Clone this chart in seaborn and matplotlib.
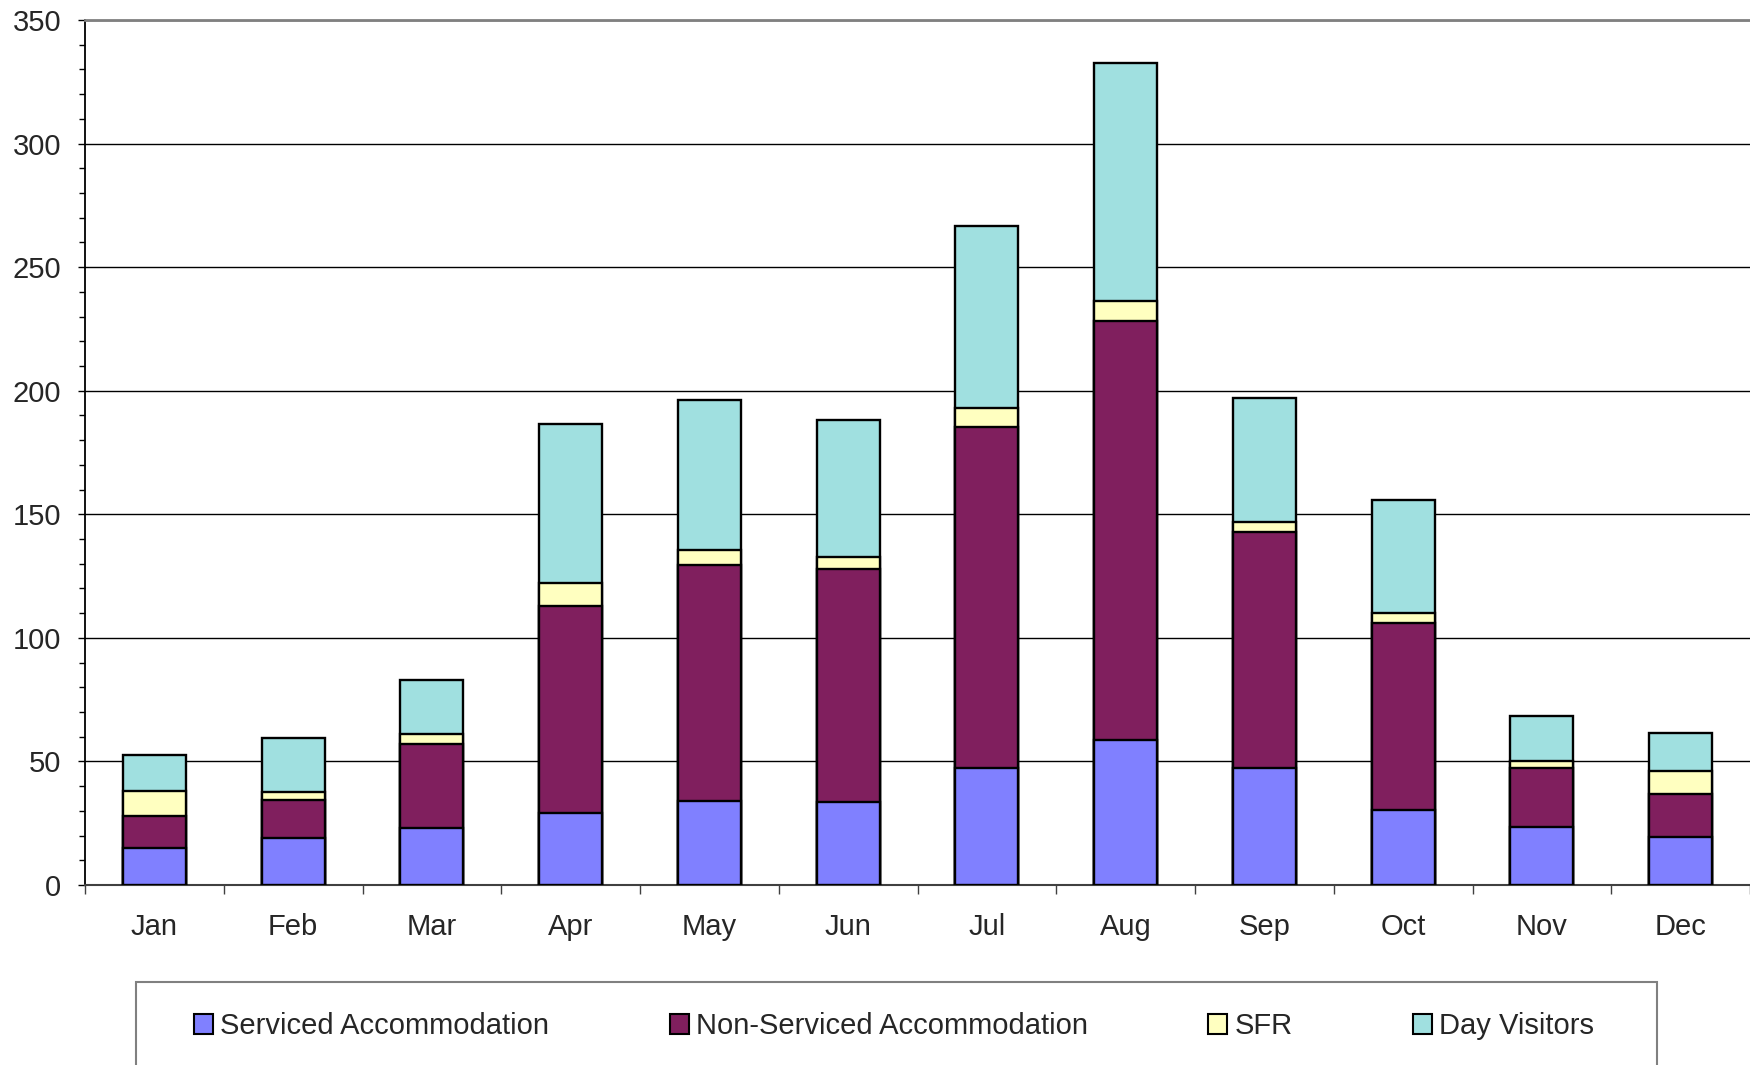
import numpy as np
import pandas as pd
import matplotlib
matplotlib.use("Agg")
import matplotlib.pyplot as plt
import seaborn as sns
from matplotlib.patches import Patch, Rectangle
from matplotlib.ticker import MultipleLocator, FixedLocator

# ========== DATA ==========
months = ["Jan", "Feb", "Mar", "Apr", "May", "Jun",
          "Jul", "Aug", "Sep", "Oct", "Nov", "Dec"]
serviced = [15, 19, 23, 29, 34, 33.5, 47.5, 58.5, 47.5, 30.5, 23.5, 19.5]
non_serviced = [13, 15.2, 34.2, 83.7, 95.5, 94.5, 138, 169.8, 95.3, 75.6, 23.7, 17.5]
sfr = [10, 3.4, 3.8, 9.3, 6, 4.8, 7.7, 8.1, 4, 3.8, 3, 9.2]
day_visitors = [14.5, 21.7, 22.1, 64.5, 60.9, 55.4, 73.6, 96.1, 50.1, 45.8, 18.3, 15.3]

series_names = ["Serviced Accommodation", "Non-Serviced Accommodation", "SFR", "Day Visitors"]
series_colors = ["#8080FF", "#801F5E", "#FFFFC0", "#A0E0E0"]

df = pd.DataFrame({
    "month": months,
    series_names[0]: serviced,
    series_names[1]: non_serviced,
    series_names[2]: sfr,
    series_names[3]: day_visitors,
})

# cumulative tops, drawn from the tallest down so each segment sits on the one below
cum = df[series_names].cumsum(axis=1)

sns.set_style("white")
plt.rcParams["font.family"] = ["Liberation Sans", "DejaVu Sans"]

fig = plt.figure(figsize=(17.5, 10.65), dpi=100)
ax = fig.add_axes([85 / 1750, 1 - 885 / 1065, 1 - 85 / 1750, (885 - 20) / 1065])

for name, color in reversed(list(zip(series_names, series_colors))):
    sns.barplot(x=df["month"], y=cum[name], color=color, width=0.455,
                edgecolor="black", linewidth=1.7, saturation=1, ax=ax, zorder=3)

ax.set_xlim(-0.5, 11.5)
ax.set_ylim(0, 350)
ax.set_xlabel("")
ax.set_ylabel("")

ax.yaxis.set_major_locator(MultipleLocator(50))
ax.yaxis.set_minor_locator(MultipleLocator(10))
ax.xaxis.set_minor_locator(FixedLocator(np.arange(-0.5, 12, 1)))
ax.tick_params(axis="y", which="major", length=5, width=1, pad=12, labelsize=21, left=True, color="black")
ax.tick_params(axis="y", which="minor", length=4, width=1, left=True, color="black")
ax.tick_params(axis="x", which="major", length=0, pad=20.5, labelsize=21)
ax.tick_params(axis="x", which="minor", length=6.5, width=1, bottom=True, color="#404040")

ax.set_axisbelow(True)
ax.grid(axis="y", which="major", color="black", linewidth=1)
ax.grid(axis="x", visible=False)

ax.spines["right"].set_visible(False)
ax.spines["left"].set_color("black")
ax.spines["left"].set_linewidth(1.3)
ax.spines["bottom"].set_color("#404040")
ax.spines["bottom"].set_linewidth(1.5)
ax.spines["top"].set_color("#808080")
ax.spines["top"].set_linewidth(2)

# legend
handles = [Patch(facecolor=c, edgecolor="black", linewidth=1.5) for c in series_colors]
fig.legend(handles, series_names, loc="center", ncol=4, mode="expand",
           bbox_to_anchor=(194 / 1750, 1 - 1026 / 1065, 1400 / 1750, 0),
           frameon=False, borderaxespad=0, borderpad=0, fontsize=21,
           handlelength=0.65, handleheight=0.7, handletextpad=0.25)
fig.add_artist(Rectangle((136 / 1750, -0.02), (1657 - 136) / 1750, (1065 - 982) / 1065 + 0.02,
                         transform=fig.transFigure, fill=False, edgecolor="#808080", linewidth=1.5))

fig.savefig("out.png", dpi=100)
